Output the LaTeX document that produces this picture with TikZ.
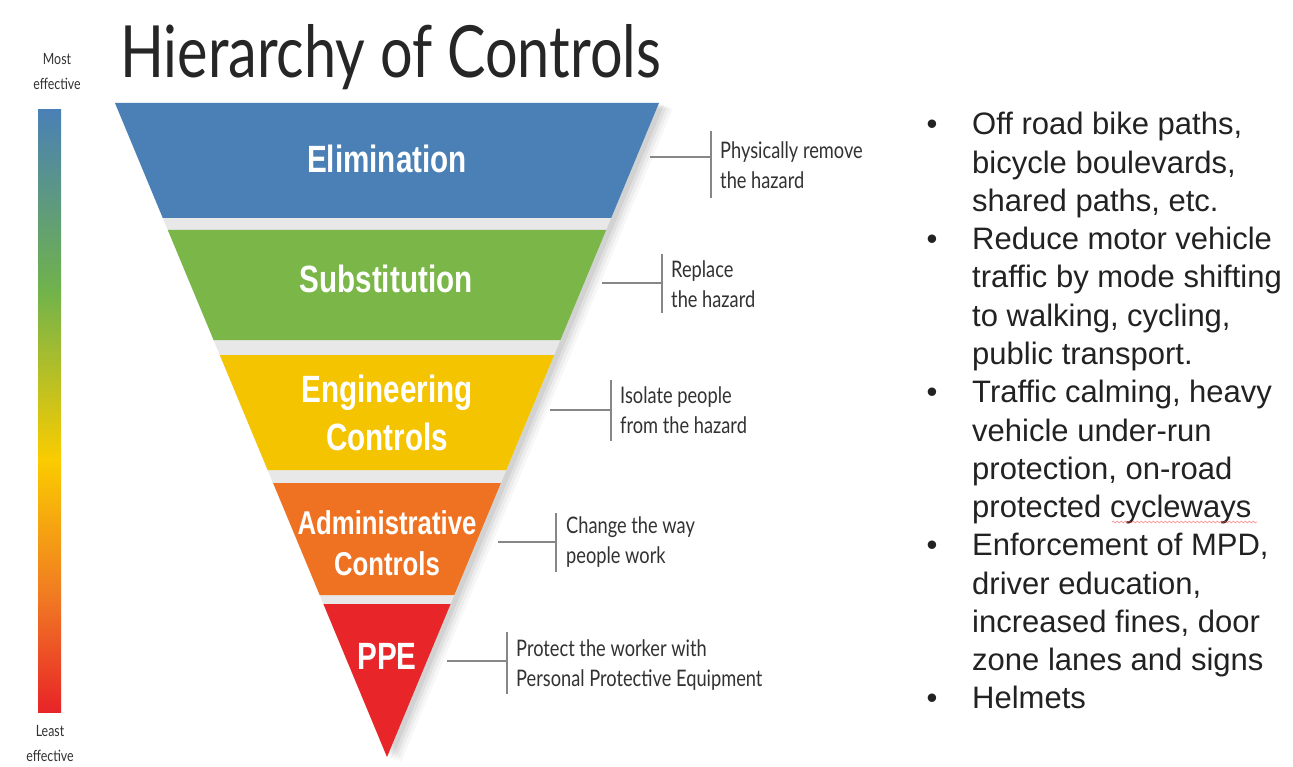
\documentclass[tikz,border=0pt]{standalone}
\usepackage{fontspec}
\usetikzlibrary{decorations.pathmorphing}
\newfontfamily\titlefont[FakeStretch=0.8]{Lato}
\newfontfamily\notefont[FakeStretch=0.8]{Lato}
\newfontfamily\bandfont[FakeStretch=0.78]{Liberation Sans}
\newfontfamily\listfont{Liberation Sans}
\definecolor{elimblue}{RGB}{74,128,181}
\definecolor{subgreen}{RGB}{122,182,72}
\definecolor{engyellow}{RGB}{245,196,0}
\definecolor{admorange}{RGB}{238,114,33}
\definecolor{ppered}{RGB}{232,38,42}
\definecolor{barblue}{RGB}{74,128,181}
\definecolor{bargreen}{RGB}{112,178,76}
\definecolor{baryellow}{RGB}{250,204,0}
\definecolor{barorange}{RGB}{240,120,35}
\definecolor{barred}{RGB}{232,36,40}
\definecolor{lipgray}{RGB}{232,232,232}
\definecolor{calloutgray}{RGB}{135,135,135}
\definecolor{notetext}{RGB}{50,50,50}
\definecolor{listtext}{RGB}{34,34,34}
\begin{document}
\begin{tikzpicture}[x=1pt,y=-1pt,
  bandlabel/.style={text=white,align=center,inner sep=0pt,
    font=\bandfont\bfseries\fontsize{38}{48}\selectfont},
  calloutline/.style={draw=calloutgray,line width=1.4pt},
  callouttext/.style={anchor=west,align=left,inner sep=0pt,text=notetext,
    font=\notefont\fontsize{22.8}{30}\selectfont},
  scaletext/.style={align=center,inner sep=0pt,text=notetext,
    font=\notefont\fontsize{15.5}{25}\selectfont},
  listline/.style={anchor=base west,inner sep=0pt,text=listtext,
    font=\listfont\fontsize{31}{38}\selectfont},
  listbullet/.style={anchor=base,inner sep=0pt,text=listtext,
    font=\listfont\fontsize{31}{38}\selectfont}]
\useasboundingbox (0,0) rectangle (1293,767);
\fill[white] (0,0) rectangle (1293,767);

% title
\node[anchor=base west,inner sep=0pt,text=black!85,
  font=\titlefont\fontsize{72}{72}\selectfont] (title) at (120,78) {Hierarchy of Controls};

% effectiveness scale bar
\node[scaletext] (most) at (57,72) {Most\\effective};
\shade[top color=barblue,bottom color=bargreen] (38,110) rectangle (61,290);
\shade[top color=bargreen,bottom color=baryellow] (38,289.5) rectangle (61,460);
\shade[top color=baryellow,bottom color=barorange] (38,459.5) rectangle (61,600);
\shade[top color=barorange,bottom color=barred] (38,599.5) rectangle (61,712);
\node[scaletext] (least) at (50,744) {Least\\effective};

% soft shadow behind the funnel
\foreach \d/\o in {14/0.03,11/0.04,8/0.05,5/0.06}{
  \fill[black,opacity=\o] (115+\d,103+\d*0.4) -- (659+\d,103+\d*0.4) -- (387+\d,757+\d*0.4) -- cycle;
}
% lip showing between the bands
\fill[lipgray] (115,103) -- (659,103) -- (387,757) -- cycle;

% funnel bands
\fill[elimblue]  (115,103)   -- (659,103)   -- (611.2,218) -- (162.8,218) -- cycle;
\fill[subgreen]  (167.8,230) -- (606.2,230) -- (560.4,340) -- (213.6,340) -- cycle;
\fill[engyellow] (219.8,355) -- (554.2,355) -- (506.3,470) -- (267.7,470) -- cycle;
\fill[admorange] (273.1,483) -- (500.9,483) -- (454.3,595) -- (319.7,595) -- cycle;
\fill[ppered]    (323.4,604) -- (450.6,604) -- (387,757) -- cycle;

% band labels
\node[bandlabel] (elim) at (387,159) {Elimination};
\node[bandlabel] (subst) at (386,279) {Substitution};
\node[bandlabel] (eng) at (387,413) {Engineering\\Controls};
\node[bandlabel,font=\bandfont\bfseries\fontsize{33}{41}\selectfont] (adm) at (387,543) {Administrative\\Controls};
\node[bandlabel] (ppe) at (387,656) {PPE};

% callouts
\coordinate (e0) at (650,157); \coordinate (e1) at (711,157);
\draw[calloutline] (e0) -- (e1);
\draw[calloutline] (711,131) -- (711,198);
\node[callouttext] (elimnote) at (720,165) {Physically remove\\the hazard};

\coordinate (s0) at (602,283); \coordinate (s1) at (662,283);
\draw[calloutline] (s0) -- (s1);
\draw[calloutline] (662,254) -- (662,313);
\node[callouttext] (substnote) at (671,284) {Replace\\the hazard};

\coordinate (g0) at (550,410); \coordinate (g1) at (611,410);
\draw[calloutline] (g0) -- (g1);
\draw[calloutline] (611,380) -- (611,441);
\node[callouttext] (engnote) at (620,410) {Isolate people\\from the hazard};

\coordinate (a0) at (498,542); \coordinate (a1) at (556,542);
\draw[calloutline] (a0) -- (a1);
\draw[calloutline] (556,513) -- (556,572);
\node[callouttext] (admnote) at (566,542) {Change the way\\people work};

\coordinate (p0) at (447,661); \coordinate (p1) at (507,661);
\draw[calloutline] (p0) -- (p1);
\draw[calloutline] (507,632) -- (507,694);
\node[callouttext] (ppenote) at (516,665) {Protect the worker with\\Personal Protective Equipment};

% measures list
\foreach \k/\t in {0/{Off road bike paths,},1/{bicycle boulevards,},2/{shared paths, etc.},
  3/{Reduce motor vehicle},4/{traffic by mode shifting},5/{to walking, cycling,},
  6/{public transport.},7/{Traffic calming, heavy},8/{vehicle under-run},
  9/{protection, on-road},10/{protected cycleways},11/{Enforcement of MPD,},
  12/{driver education,},13/{increased fines, door},14/{zone lanes and signs},15/{Helmets}}{
  \node[listline] (line\k) at (972,135+38.25*\k) {\t};
}
\foreach \k in {0,3,7,11,15}{
  \node[listbullet] (bullet\k) at (932,135+38.25*\k) {•};
}
\draw[red!75,opacity=0.55,line width=0.7pt,decorate,
  decoration={snake,amplitude=0.9pt,segment length=4pt}] (1112,522) -- (1257,522);
\end{tikzpicture}
\end{document}
